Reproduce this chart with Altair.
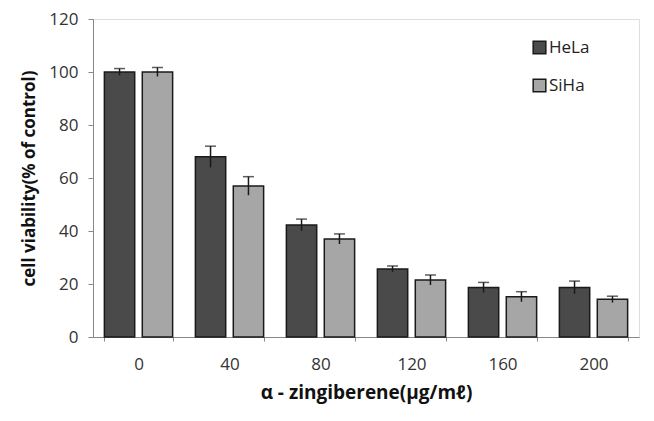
import altair as alt
import pandas as pd

doses = ["0", "40", "80", "120", "160", "200"]
hela = [100, 68, 42.3, 25.7, 18.7, 18.7]
hela_err = [1.3, 4.0, 2.2, 1.1, 1.9, 2.4]
siha = [100, 57, 37, 21.5, 15.2, 14.2]
siha_err = [1.7, 3.5, 1.9, 1.9, 1.9, 1.2]
cells = ["HeLa", "SiHa"]

rows = []
for d, v, e in zip(doses, hela, hela_err):
    rows.append({"dose": d, "cell": "HeLa", "v": v, "lo": v - e, "hi": v + e})
for d, v, e in zip(doses, siha, siha_err):
    rows.append({"dose": d, "cell": "SiHa", "v": v, "lo": v - e, "hi": v + e})
df = pd.DataFrame(rows)

FONT = "Open Sans"

x = alt.X("dose:N", sort=doses,
          scale=alt.Scale(paddingInner=0.25, paddingOuter=0.125),
          axis=alt.Axis(title="α - zingiberene(μg/mℓ)", labelAngle=0, tickBand="extent",
                        tickSize=4, labelPadding=15, titlePadding=11,
                        labelFontSize=17, titleFontSize=19, titleFontWeight="bold",
                        labelColor="#333333", titleColor="#111111",
                        domainColor="#888888", tickColor="#888888",
                        labelFont=FONT, titleFont=FONT))
xo = alt.XOffset("cell:N", sort=cells, scale=alt.Scale(paddingInner=0.2))
y = alt.Y("v:Q", scale=alt.Scale(domain=[0, 120]),
          axis=alt.Axis(title="cell viability(% of control)", values=[0, 20, 40, 60, 80, 100, 120],
                        grid=False, tickSize=5, labelPadding=10, titlePadding=10,
                        labelFontSize=17, titleFontSize=17, titleFontWeight="bold",
                        labelColor="#333333", titleColor="#111111",
                        domainColor="#888888", tickColor="#888888",
                        labelFont=FONT, titleFont=FONT))

bars = alt.Chart(df).mark_bar(stroke="#1a1a1a", strokeWidth=1.5).encode(
    x=x, xOffset=xo, y=y,
    color=alt.Color("cell:N", sort=cells,
                    scale=alt.Scale(domain=cells, range=["#4a4a4a", "#a6a6a6"]),
                    legend=alt.Legend(title=None, orient="none", legendX=438, legendY=20,
                                      symbolType="square", symbolSize=160,
                                      symbolStrokeColor="#1a1a1a", symbolStrokeWidth=1.5,
                                      labelFontSize=17, labelFont=FONT, labelColor="#222222",
                                      rowPadding=19, labelOffset=1))
)

whisk = alt.Chart(df).mark_rule(color="#1a1a1a", strokeWidth=1.5).encode(
    x=x, xOffset=xo, y="lo:Q", y2="hi:Q"
)
caps = alt.Chart(df).mark_tick(color="#1a1a1a", thickness=1.5, size=11).encode(
    x=x, xOffset=xo, y="hi:Q"
)

chart = alt.layer(bars, whisk, caps).properties(
    width=546, height=318,
    autosize=alt.AutoSizeParams(type="none"),
    padding={"left": 85, "top": 11, "right": 7, "bottom": 76},
).configure_view(stroke="#888888", strokeWidth=1.5).configure(font=FONT)

chart.save("out.html", embed_options={"renderer": "svg", "actions": False})
